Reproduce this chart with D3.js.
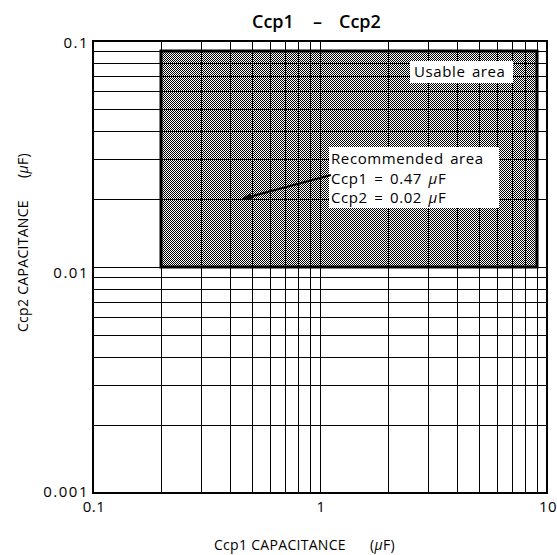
<!DOCTYPE html>
<html><head><meta charset="utf-8">
<script src="https://cdn.jsdelivr.net/npm/d3@7"></script>
<style>body{margin:0;background:#fff;} svg{display:block;} text{font-family:"Open Sans","DejaVu Sans",sans-serif;fill:#000;}</style>
</head><body>
<script>
const titleParts = ["Ccp1", "\u2013", "Ccp2"];
const xDomain = [0.1, 10];
const yDomain = [0.001, 0.1];
const xTickValues = [0.1, 1, 10];
const xTickLabels = ["0.1", "1", "10"];
const yTickValues = [0.001, 0.01, 0.1];
const yTickLabels = ["0.001", "0.01", "0.1"];
const usableX = [0.2, 9];
const usableY = [0.01, 0.09];
const recommended = {x: 0.47, y: 0.02};
const recLines = [["Recommended area", ""], ["Ccp1 = 0.47 ", "\u03bc", "F"], ["Ccp2 = 0.02 ", "\u03bc", "F"]];

const W = 557, H = 555;
const m = {l: 93, r: 10, t: 41, b: 62};
const svg = d3.select("body").append("svg").attr("width", W).attr("height", H);
const x = d3.scaleLog().domain(xDomain).range([m.l, W - m.r]);
const y = d3.scaleLog().domain(yDomain).range([H - m.b, m.t]);

const defs = svg.append("defs");
const pat = defs.append("pattern").attr("id", "chk").attr("patternUnits", "userSpaceOnUse")
  .attr("width", 2).attr("height", 2);
pat.append("rect").attr("width", 2).attr("height", 2).attr("fill", "#fff");
pat.append("rect").attr("x", 0).attr("y", 0).attr("width", 1).attr("height", 1).attr("fill", "#000");
pat.append("rect").attr("x", 1).attr("y", 1).attr("width", 1).attr("height", 1).attr("fill", "#000");

const ux0 = Math.round(x(usableX[0])), ux1 = Math.round(x(usableX[1]));
const uy0 = Math.round(y(usableY[1])), uy1 = Math.round(y(usableY[0]));
svg.append("rect").attr("x", ux0).attr("y", uy0).attr("width", ux1 - ux0).attr("height", uy1 - uy0)
  .attr("fill", "url(#chk)").attr("shape-rendering", "crispEdges");

// grid
const gridVals = [];
[0.1, 1].forEach(d => { for (let k = 1; k <= 9; k++) gridVals.push(d * k); });
gridVals.push(10);
const gridValsY = [];
[0.001, 0.01].forEach(d => { for (let k = 1; k <= 9; k++) gridValsY.push(d * k); });
gridValsY.push(0.1);

svg.append("g").attr("shape-rendering", "crispEdges").selectAll("line").data(gridVals).join("line")
  .attr("x1", d => Math.round(x(d)) + 0.5).attr("x2", d => Math.round(x(d)) + 0.5)
  .attr("y1", m.t).attr("y2", H - m.b)
  .attr("stroke", "#000").attr("stroke-width", 1);
svg.append("g").attr("shape-rendering", "crispEdges").selectAll("line").data(gridValsY).join("line")
  .attr("y1", d => Math.round(y(d)) + 0.5).attr("y2", d => Math.round(y(d)) + 0.5)
  .attr("x1", m.l).attr("x2", W - m.r)
  .attr("stroke", "#000").attr("stroke-width", 1);

// plot border
svg.append("rect").attr("x", m.l).attr("y", m.t)
  .attr("width", W - m.r - m.l).attr("height", H - m.b - m.t)
  .attr("fill", "none").attr("stroke", "#000").attr("stroke-width", 2);

// usable area border
svg.append("rect").attr("x", ux0).attr("y", uy0).attr("width", ux1 - ux0).attr("height", uy1 - uy0)
  .attr("fill", "none").attr("stroke", "#000").attr("stroke-width", 3);

// Usable area label
svg.append("rect").attr("x", 410).attr("y", 61).attr("width", 103).attr("height", 22).attr("fill", "#fff");
svg.append("text").attr("x", 414).attr("y", 77).attr("font-size", 15).style("letter-spacing", "0.6px")
  .style("word-spacing", "2px").text("Usable area");

// recommended label box
svg.append("rect").attr("x", 329).attr("y", 147).attr("width", 170).attr("height", 61).attr("fill", "#fff");
const rt = svg.append("g").selectAll("text").data(recLines).join("text")
  .attr("x", 331).attr("y", (d, i) => 164 + i * 19.5)
  .attr("font-size", 15).style("letter-spacing", "0.6px").style("word-spacing", "2px");
rt.each(function(d) {
  const t = d3.select(this);
  t.append("tspan").text(d[0]);
  if (d.length > 2) {
    t.append("tspan").attr("font-style", "italic").text(d[1]);
    t.append("tspan").text(d[2]);
  }
});

// arrow
const px = x(recommended.x) - 4, py = y(recommended.y);
const sx = 331, sy = 175;
const ang = Math.atan2(py - sy, px - sx);
const L = 10, Wd = 3.5;
const bx = px - L * Math.cos(ang), by = py - L * Math.sin(ang);
svg.append("line").attr("x1", sx).attr("y1", sy).attr("x2", bx).attr("y2", by)
  .attr("stroke", "#000").attr("stroke-width", 2);
svg.append("path").attr("d", `M${px},${py} L${bx - Wd * Math.sin(ang)},${by + Wd * Math.cos(ang)} L${bx + Wd * Math.sin(ang)},${by - Wd * Math.cos(ang)} Z`)
  .attr("fill", "#000");

// tick labels
svg.append("g").selectAll("text").data(xTickValues).join("text")
  .attr("x", d => x(d) + 1).attr("y", H - m.b + 19).attr("text-anchor", "middle")
  .attr("font-size", 15).style("letter-spacing", "0.5px").text((d, i) => xTickLabels[i]);
const yLabelDy = [4, 11, 7];
svg.append("g").selectAll("text").data(yTickValues).join("text")
  .attr("x", m.l - 4).attr("y", (d, i) => y(d) + yLabelDy[i]).attr("text-anchor", "end")
  .attr("font-size", 15).style("letter-spacing", "1.5px").text((d, i) => yTickLabels[i]);

// title
const tg = svg.append("g");
const titleX = [252, 313, 339];
tg.selectAll("text").data(titleParts).join("text")
  .attr("x", (d, i) => titleX[i]).attr("y", 28)
  .attr("font-size", 18).attr("font-weight", 600).text(d => d);

// axis titles
const xt = svg.append("text").attr("x", 214).attr("y", 550).attr("font-size", 14)
  .style("letter-spacing", "0.3px");
xt.append("tspan").text("Ccp1 CAPACITANCE");
xt.append("tspan").attr("x", 370).text("(");
xt.append("tspan").attr("font-style", "italic").text("\u03bc");
xt.append("tspan").text("F)");

const yt = svg.append("text").attr("transform", "translate(28,0) rotate(-90)").attr("font-size", 14)
  .style("letter-spacing", "0.3px");
yt.append("tspan").attr("x", -332).attr("y", 0).text("Ccp2 CAPACITANCE");
yt.append("tspan").attr("x", -178).text("(");
yt.append("tspan").attr("font-style", "italic").text("\u03bc");
yt.append("tspan").text("F)");
</script>
</body></html>
